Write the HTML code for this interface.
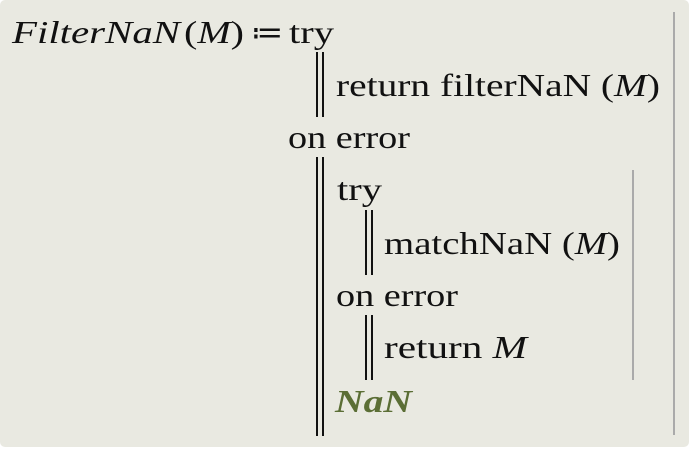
<!DOCTYPE html>
<html><head><meta charset="utf-8"><style>
html,body{margin:0;padding:0;background:#fff;width:691px;height:449px;overflow:hidden}
svg{display:block}
text{font-family:"Liberation Serif",serif;font-size:32px;fill:#111}
.i{font-style:italic}
</style></head><body>
<svg width="691" height="449" viewBox="0 0 691 449">
<rect x="0" y="0" width="689" height="447" rx="5" fill="#e9e9e1"/>
<g stroke="#111" stroke-width="2">
<line x1="317" y1="52" x2="317" y2="117"/><line x1="323" y1="52" x2="323" y2="117"/>
<line x1="317" y1="157" x2="317" y2="436"/><line x1="323" y1="157" x2="323" y2="436"/>
<line x1="366" y1="210" x2="366" y2="275"/><line x1="372" y1="210" x2="372" y2="275"/>
<line x1="366" y1="315" x2="366" y2="380"/><line x1="372" y1="315" x2="372" y2="380"/>
</g>
<g stroke="#aaa" stroke-width="2">
<line x1="674" y1="12" x2="674" y2="435"/>
<line x1="633" y1="170" x2="633" y2="380"/>
</g>
<text x="12" y="43" class="i" textLength="168" lengthAdjust="spacingAndGlyphs">FilterNaN</text>
<text x="184" y="43" textLength="60" lengthAdjust="spacingAndGlyphs">(<tspan class="i">M</tspan>)</text>
<text x="251" y="43" textLength="32" lengthAdjust="spacingAndGlyphs">≔</text>
<text x="289" y="43" textLength="45" lengthAdjust="spacingAndGlyphs">try</text>
<text x="336" y="96" textLength="324" lengthAdjust="spacingAndGlyphs">return filterNaN (<tspan class="i">M</tspan>)</text>
<text x="288" y="148" textLength="122" lengthAdjust="spacingAndGlyphs">on error</text>
<text x="337" y="200" textLength="45" lengthAdjust="spacingAndGlyphs">try</text>
<text x="384" y="254" textLength="236" lengthAdjust="spacingAndGlyphs">matchNaN (<tspan class="i">M</tspan>)</text>
<text x="336" y="306" textLength="122" lengthAdjust="spacingAndGlyphs">on error</text>
<text x="384" y="358" textLength="143" lengthAdjust="spacingAndGlyphs">return <tspan class="i">M</tspan></text>
<text x="335" y="412" class="i" style="fill:#5b6e35;font-weight:bold" textLength="77" lengthAdjust="spacingAndGlyphs">NaN</text>
</svg>
</body></html>
